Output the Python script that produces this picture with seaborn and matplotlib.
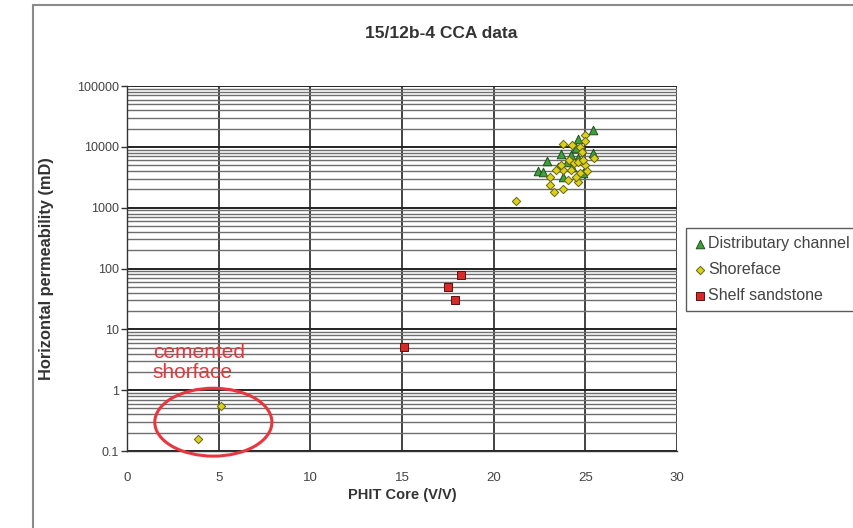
import numpy as np
import pandas as pd
import matplotlib
matplotlib.use('Agg')
import matplotlib.pyplot as plt
import seaborn as sns
from matplotlib.patches import Ellipse
from matplotlib.lines import Line2D
from matplotlib.ticker import LogLocator, FuncFormatter

# values
channel_phit = [25.4, 24.6, 23.7, 22.9, 22.4, 22.7, 24.2, 24.6, 25.4, 24.9, 23.8, 23.5, 24.3, 24.0, 24.5]
channel_perm = [18900, 13300, 7600, 5900, 4000, 3900, 7300, 6500, 8000, 3700, 3200, 4700, 4700, 5700, 9400]

shoreface_phit = [24.96, 24.96, 23.8, 24.3, 24.7, 24.8, 25.45, 24.1, 24.4, 24.6, 24.96, 25.1, 24.7,
                  23.8, 23.4, 23.05, 23.1, 23.3, 23.8, 24.6, 24.05, 23.7, 24.2, 24.5, 24.9,
                  21.2, 3.9, 5.15]
shoreface_perm = [15600, 12600, 11000, 10700, 10000, 8300, 6600, 6100, 5350, 5700, 5000, 4000, 3650,
                  4150, 4150, 3200, 2350, 1830, 2050, 2650, 2850, 5000, 4150, 3200, 6100,
                  1300, 0.16, 0.56]

shelf_phit = [15.1, 17.5, 17.9, 18.2]
shelf_perm = [5.1, 50, 30, 78]

facies = ["Distributary channel", "Shoreface", "Shelf sandstone"]

df = pd.DataFrame({
    "phit": channel_phit + shoreface_phit + shelf_phit,
    "perm": channel_perm + shoreface_perm + shelf_perm,
    "facies": [facies[0]] * len(channel_phit) + [facies[1]] * len(shoreface_phit) + [facies[2]] * len(shelf_phit),
})

palette = {facies[0]: "#3f9f3c", facies[1]: "#d8d21a", facies[2]: "#d42a2a"}
edges = {facies[0]: "#1d4f1d", facies[1]: "#6b6410", facies[2]: "#5a1010"}
markers = {facies[0]: "^", facies[1]: "D", facies[2]: "s"}
sizes = {facies[0]: 38, facies[1]: 18, facies[2]: 26}

sns.set_style("white")
plt.rcParams['font.family'] = ['Liberation Sans', 'DejaVu Sans']

fig = plt.figure(figsize=(8.54, 5.28), dpi=100)
ax = fig.add_axes([0.1487, 0.1458, 0.644, 0.6913])

for f in facies:
    sub = df[df.facies == f]
    sns.scatterplot(data=sub, x="phit", y="perm", ax=ax, marker=markers[f], color=palette[f],
                    edgecolor=edges[f], linewidth=0.7, s=sizes[f], zorder=3, label=f)

ax.set_yscale("log")
ax.set_xlim(0, 30)
ax.set_ylim(0.1, 100000)
ax.set_xticks(range(0, 31, 5))
ax.yaxis.set_major_locator(LogLocator(base=10, numticks=10))
ax.yaxis.set_minor_locator(LogLocator(base=10, subs=np.arange(2, 10), numticks=20))
ax.yaxis.set_major_formatter(FuncFormatter(lambda v, p: "%g" % v))

ax.grid(which="major", axis="y", color="#222222", linewidth=1.4)
ax.grid(which="minor", axis="y", color="#6e6e6e", linewidth=1.0)
ax.grid(which="major", axis="x", color="#222222", linewidth=1.2)
ax.set_axisbelow(True)

for s in ["top", "right"]:
    ax.spines[s].set_visible(False)
for s in ["left", "bottom"]:
    ax.spines[s].set_color("#333333")
    ax.spines[s].set_linewidth(1.0)

ax.tick_params(axis="x", which="major", direction="inout", length=6, width=1, colors="#333333",
               labelsize=9.5, labelcolor="#444444", pad=12)
ax.tick_params(axis="y", which="major", direction="out", length=4, width=1, colors="#333333",
               labelsize=9, labelcolor="#444444", pad=2, left=True)
ax.tick_params(axis="y", which="minor", left=False)

ax.set_xlabel("PHIT Core (V/V)", fontsize=10.5, fontweight="bold", color="#333333", labelpad=3)
ax.set_ylabel("Horizontal permeability (mD)", fontsize=11.8, fontweight="bold", color="#333333", labelpad=16)
fig.text(0.517, 0.937, "15/12b-4 CCA data", ha="center", va="center", fontsize=12.5,
         fontweight="bold", color="#333333")

leg = ax.legend(loc="upper left", bbox_to_anchor=(1.016, 0.611), frameon=True, fancybox=False,
                fontsize=11.5, handletextpad=0.1, borderpad=0.5, labelspacing=0.7,
                handlelength=0.8, borderaxespad=0)
leg.get_frame().set_edgecolor("#333333")
leg.get_frame().set_linewidth(1.0)
for t in leg.get_texts():
    t.set_color("#444444")

# annotation for the cemented shoreface samples
ax.text(0.047, 0.296, "cemented\nshorface", transform=ax.transAxes, ha="left", va="top",
        fontsize=15, color="#e8363e", linespacing=1.1)
ax.add_patch(Ellipse((0.157, 0.079), 0.213, 0.186, transform=ax.transAxes, fill=False,
                     edgecolor="#e8363e", linewidth=2.2, clip_on=False, zorder=4))

# outer chart border
fig.add_artist(Line2D([33 / 854, 33 / 854], [0, 1 - 5 / 528], color="#8a8a8a", linewidth=1.5))
fig.add_artist(Line2D([33 / 854, 1], [1 - 5 / 528, 1 - 5 / 528], color="#8a8a8a", linewidth=1.5))

fig.savefig("out.png", dpi=100)
